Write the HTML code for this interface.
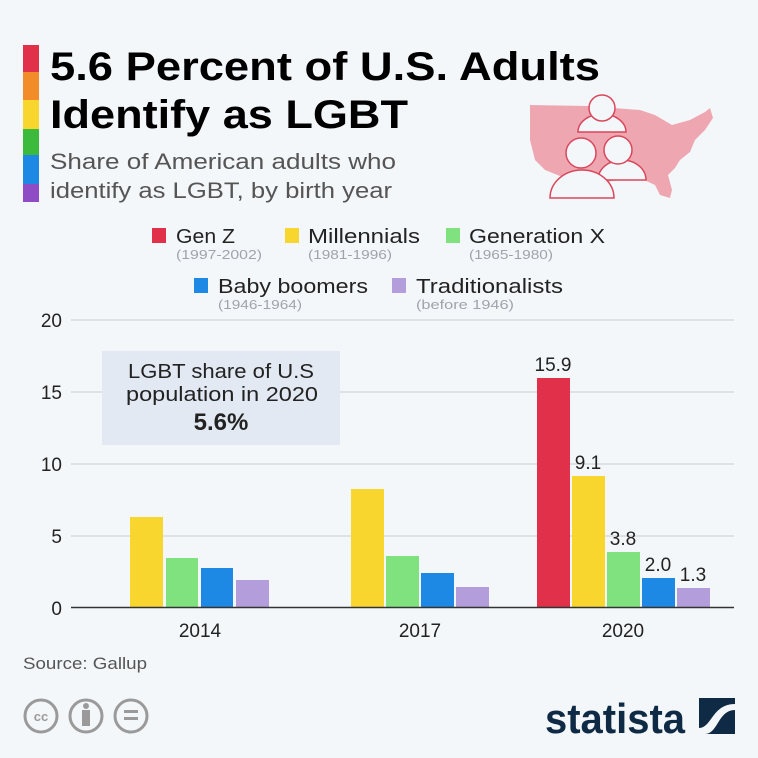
<!DOCTYPE html>
<html><head><meta charset="utf-8"><style>
body{margin:0;width:758px;height:758px;background:#f4f7fa;font-family:"Liberation Sans","DejaVu Sans",sans-serif;overflow:hidden;position:relative}
</style></head><body>
<svg width="758" height="758" style="position:absolute;left:0;top:0">
<rect x="23" y="45" width="16" height="27" fill="#e0304a"/>
<rect x="23" y="72" width="16" height="28" fill="#f28c28"/>
<rect x="23" y="100" width="16" height="29" fill="#f8d62e"/>
<rect x="23" y="129" width="16" height="26" fill="#3cba3c"/>
<rect x="23" y="155" width="16" height="29" fill="#1e88e5"/>
<rect x="23" y="184" width="16" height="18" fill="#8e4dc4"/>
<text x="50" y="80" font-size="40" font-weight="bold" fill="#000" textLength="550" lengthAdjust="spacingAndGlyphs">5.6 Percent of U.S. Adults</text>
<text x="50" y="128" font-size="40" font-weight="bold" fill="#000" textLength="358" lengthAdjust="spacingAndGlyphs">Identify as LGBT</text>
<text x="50" y="169" font-size="22" fill="#555" textLength="346" lengthAdjust="spacingAndGlyphs">Share of American adults who</text>
<text x="50" y="198" font-size="22" fill="#555" textLength="342" lengthAdjust="spacingAndGlyphs">identify as LGBT, by birth year</text>
<polygon fill="#eea7b1" points="530,105 588,106 640,110 655,115 672,125 690,120 705,112 710,108 713,118 705,130 695,140 690,152 680,160 675,168 668,175 672,190 670,198 660,195 655,185 640,178 620,180 605,182 598,188 595,196 585,188 570,182 560,176 545,170 535,160 530,140"/>
<g fill="#f4f7fa" stroke="#d9475c" stroke-width="1.5">
<path d="M578,132 a24,18 0 0 1 48,0 z"/>
<circle cx="602" cy="108" r="13"/>
<path d="M598,180 a24,20 0 0 1 48,0 z"/>
<circle cx="618" cy="150" r="14"/>
<path d="M550,198 a32,28 0 0 1 64,0 z"/>
<circle cx="581" cy="153" r="15"/>
</g>
<g stroke="#c8ccd2" stroke-width="1">
<line x1="71" y1="320" x2="734" y2="320"/><line x1="71" y1="392" x2="734" y2="392"/><line x1="71" y1="464" x2="734" y2="464"/><line x1="71" y1="536" x2="734" y2="536"/>
</g>
<rect x="102" y="351" width="238" height="94" fill="#e3e9f2"/>
<g font-size="19" fill="#222" text-anchor="end"><text x="62" y="327">20</text><text x="62" y="399">15</text><text x="62" y="471">10</text><text x="62" y="543">5</text><text x="62" y="615">0</text></g>
<rect x="130" y="517" width="33" height="90" fill="#f8d62e"/><rect x="166" y="558" width="32" height="49" fill="#80e27e"/><rect x="201" y="568" width="32" height="39" fill="#1e88e5"/><rect x="236" y="580" width="33" height="27" fill="#b39ddb"/>
<rect x="351" y="489" width="33" height="118" fill="#f8d62e"/><rect x="386" y="556" width="33" height="51" fill="#80e27e"/><rect x="421" y="573" width="33" height="34" fill="#1e88e5"/><rect x="456" y="587" width="33" height="20" fill="#b39ddb"/>
<rect x="537" y="378" width="33" height="229" fill="#e0304a"/><rect x="572" y="476" width="33" height="131" fill="#f8d62e"/><rect x="607" y="552" width="33" height="55" fill="#80e27e"/><rect x="642" y="578" width="33" height="29" fill="#1e88e5"/><rect x="677" y="588" width="33" height="19" fill="#b39ddb"/>
<line x1="71" y1="607.5" x2="734" y2="607.5" stroke="#333" stroke-width="1.5"/>
<g font-size="19" fill="#222" text-anchor="middle">
<text x="553" y="371">15.9</text><text x="588" y="469">9.1</text><text x="623" y="545">3.8</text><text x="658" y="571">2.0</text><text x="693" y="581">1.3</text>
<text x="200" y="637">2014</text><text x="420" y="637">2017</text><text x="623" y="637">2020</text>
</g>
<g font-size="20" fill="#222">
<text x="128" y="378" textLength="186" lengthAdjust="spacingAndGlyphs">LGBT share of U.S</text>
<text x="126" y="401" textLength="192" lengthAdjust="spacingAndGlyphs">population in 2020</text>
<text x="221" y="430" font-weight="bold" font-size="24" text-anchor="middle">5.6%</text>
</g>
<g font-size="20" fill="#222">
<rect x="152" y="228" width="14" height="15" fill="#e0304a"/><text x="176" y="243" textLength="59" lengthAdjust="spacingAndGlyphs">Gen Z</text>
<rect x="285" y="228" width="14" height="15" fill="#f8d62e"/><text x="308" y="243" textLength="112" lengthAdjust="spacingAndGlyphs">Millennials</text>
<rect x="446" y="228" width="14" height="15" fill="#80e27e"/><text x="469" y="243" textLength="136" lengthAdjust="spacingAndGlyphs">Generation X</text>
<rect x="194" y="278" width="14" height="15" fill="#1e88e5"/><text x="218" y="293" textLength="150" lengthAdjust="spacingAndGlyphs">Baby boomers</text>
<rect x="392" y="278" width="14" height="15" fill="#b39ddb"/><text x="416" y="293" textLength="147" lengthAdjust="spacingAndGlyphs">Traditionalists</text>
</g>
<g font-size="13" fill="#a0a4aa">
<text x="176" y="259" textLength="86" lengthAdjust="spacingAndGlyphs">(1997-2002)</text><text x="308" y="259" textLength="84" lengthAdjust="spacingAndGlyphs">(1981-1996)</text><text x="469" y="259" textLength="84" lengthAdjust="spacingAndGlyphs">(1965-1980)</text>
<text x="218" y="309" textLength="84" lengthAdjust="spacingAndGlyphs">(1946-1964)</text><text x="416" y="309" textLength="98" lengthAdjust="spacingAndGlyphs">(before 1946)</text>
</g>
<text x="23" y="669" font-size="17" fill="#555" textLength="124" lengthAdjust="spacingAndGlyphs">Source: Gallup</text>
<g fill="none" stroke="#9a9a9a" stroke-width="3"><circle cx="41" cy="716" r="16"/><circle cx="86" cy="716" r="16"/><circle cx="131" cy="716" r="16"/></g>
<text x="41" y="721" font-size="13" font-weight="bold" fill="#9a9a9a" text-anchor="middle">cc</text>
<circle cx="86" cy="706" r="3" fill="#9a9a9a"/><rect x="82" y="710" width="8" height="16" fill="#9a9a9a"/>
<rect x="124" y="710" width="14" height="3" fill="#9a9a9a"/><rect x="124" y="717" width="14" height="3" fill="#9a9a9a"/>
<text x="545" y="733" font-size="42" font-weight="bold" fill="#0f2a44" textLength="140" lengthAdjust="spacingAndGlyphs">statista</text>
<rect x="699" y="698" width="36" height="36" fill="#0f2a44"/>
<path d="M699,728 C712,728 712,704 735,704 L735,710 C718,710 718,734 705,734 L699,734Z" fill="#f4f7fa"/>
</svg>
</body></html>
